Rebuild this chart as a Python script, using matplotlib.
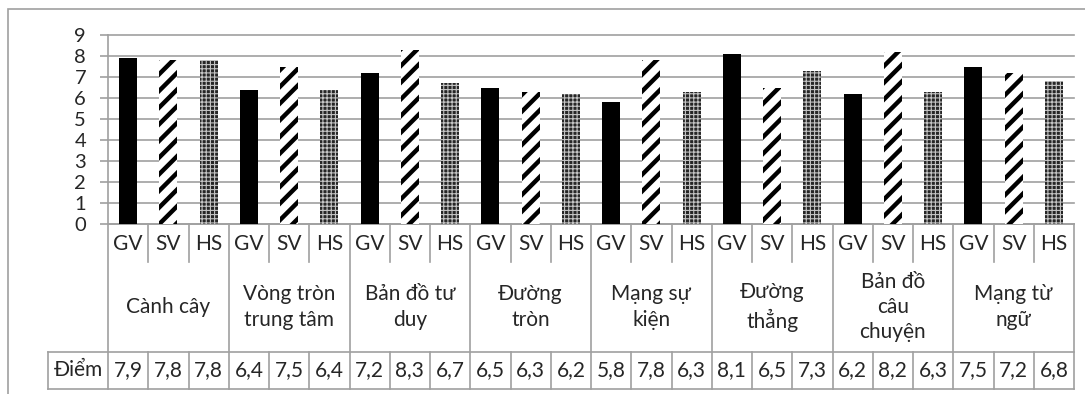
import numpy as np
import matplotlib
matplotlib.use("Agg")
import matplotlib.pyplot as plt
from matplotlib.patches import Rectangle

plt.rcParams['font.family'] = ['Lato', 'DejaVu Sans']

# Data
groups = ["Cành cây", "Vòng tròn\ntrung tâm", "Bản đồ tư\nduy", "Đường\ntròn",
          "Mạng sự\nkiện", "Đường\nthẳng", "Bản đồ\ncâu\nchuyện", "Mạng từ\nngữ"]
series = ["GV", "SV", "HS"]
gv = [7.9, 6.4, 7.2, 6.5, 5.8, 8.1, 6.2, 7.5]
sv = [7.8, 7.5, 8.3, 6.3, 7.8, 6.5, 8.2, 7.2]
hs = [7.8, 6.4, 6.7, 6.2, 6.3, 7.3, 6.3, 6.8]
row_label = "Điểm"
yticks = list(range(0, 10))

W, H = 1085, 394
fig = plt.figure(figsize=(W / 100, H / 100), dpi=100)


def fx(px):
    return px / W


def fy(py):
    return 1 - py / H


GRAY = '#a0a0a0'
TXT = '#262626'
FS_TICK = 14.5
FS = 15

# Chart frame
fig.add_artist(Rectangle((fx(8), fy(420)), fx(1100) - fx(8), fy(9) - fy(420),
                         transform=fig.transFigure, fill=False,
                         edgecolor=GRAY, lw=1.2))

# Plot area
ax = fig.add_axes([fx(108), fy(224), fx(1074) - fx(108), fy(35) - fy(224)])
n_g, n_s = len(groups), len(series)
ax.set_xlim(-0.5, n_g * n_s - 0.5)
ax.set_ylim(0, 9)

x = np.arange(n_g) * n_s
bw = 0.45
ax.bar(x + 0, gv, width=bw, color='black', linewidth=0, zorder=3)
with plt.rc_context({'hatch.linewidth': 3.2}):
    ax.bar(x + 1, sv, width=bw, facecolor='white', edgecolor='black',
           hatch='//', linewidth=0, zorder=3)
with plt.rc_context({'hatch.linewidth': 0.8}):
    ax.bar(x + 2, hs, width=bw, facecolor='#262626', edgecolor='#c4c4c4',
           hatch='++++', linewidth=0, zorder=3)

ax.set_yticks(yticks)
ax.set_yticklabels([str(t) for t in yticks])
ax.tick_params(axis='y', length=5.8, width=1.2, color=GRAY, pad=10,
               labelsize=FS_TICK, labelcolor=TXT)
ax.tick_params(axis='x', bottom=False, labelbottom=False)
ax.yaxis.grid(True, color=GRAY, lw=1.2, zorder=0)
for gl in ax.get_ygridlines():
    gl.set_clip_on(False)
for side in ('top', 'right'):
    ax.spines[side].set_visible(False)
for side in ('left', 'bottom'):
    ax.spines[side].set_color(GRAY)
    ax.spines[side].set_linewidth(1.2)
ax.set_axisbelow(True)

# Data table beneath the plot
tax = fig.add_axes([fx(108), fy(389), fx(1074) - fx(108), fy(224) - fy(389)])
tax.set_xlim(ax.get_xlim())
tax.set_ylim(165, 0)
tax.axis('off')

slot_px = (1074 - 108) / (n_g * n_s)
x_left = -0.5 - 60 / slot_px
x_right = n_g * n_s - 0.5
bounds = np.arange(-0.5, n_g * n_s, 1.0)
lkw = dict(color=GRAY, lw=1.2, clip_on=False)
for b in bounds:
    if round(b + 0.5) % n_s == 0:
        tax.plot([b, b], [0, 165], **lkw)
    else:
        tax.plot([b, b], [0, 38], **lkw)
        tax.plot([b, b], [128, 165], **lkw)
tax.plot([x_left, x_right], [128, 128], **lkw)
tax.plot([x_left, x_right], [165, 165], **lkw)
tax.plot([x_left, x_left], [128, 165], **lkw)

for g in range(n_g):
    for s in range(n_s):
        xi = g * n_s + s
        tax.text(xi, 19.5, series[s], ha='center', va='center', fontsize=FS,
                 color=TXT)
    tax.text(g * n_s + 1, 83, groups[g], ha='center', va='center',
             fontsize=FS, linespacing=1.34, color=TXT)

values = [gv, sv, hs]
for g in range(n_g):
    for s in range(n_s):
        xi = g * n_s + s
        tax.text(xi, 146.5, f"{values[s][g]:.1f}".replace('.', ','),
                 ha='center', va='center', fontsize=FS, color=TXT)
tax.text((x_left - 0.5) / 2, 146.5, row_label, ha='center', va='center',
         fontsize=FS, color=TXT)

fig.savefig('out.png', dpi=100)
